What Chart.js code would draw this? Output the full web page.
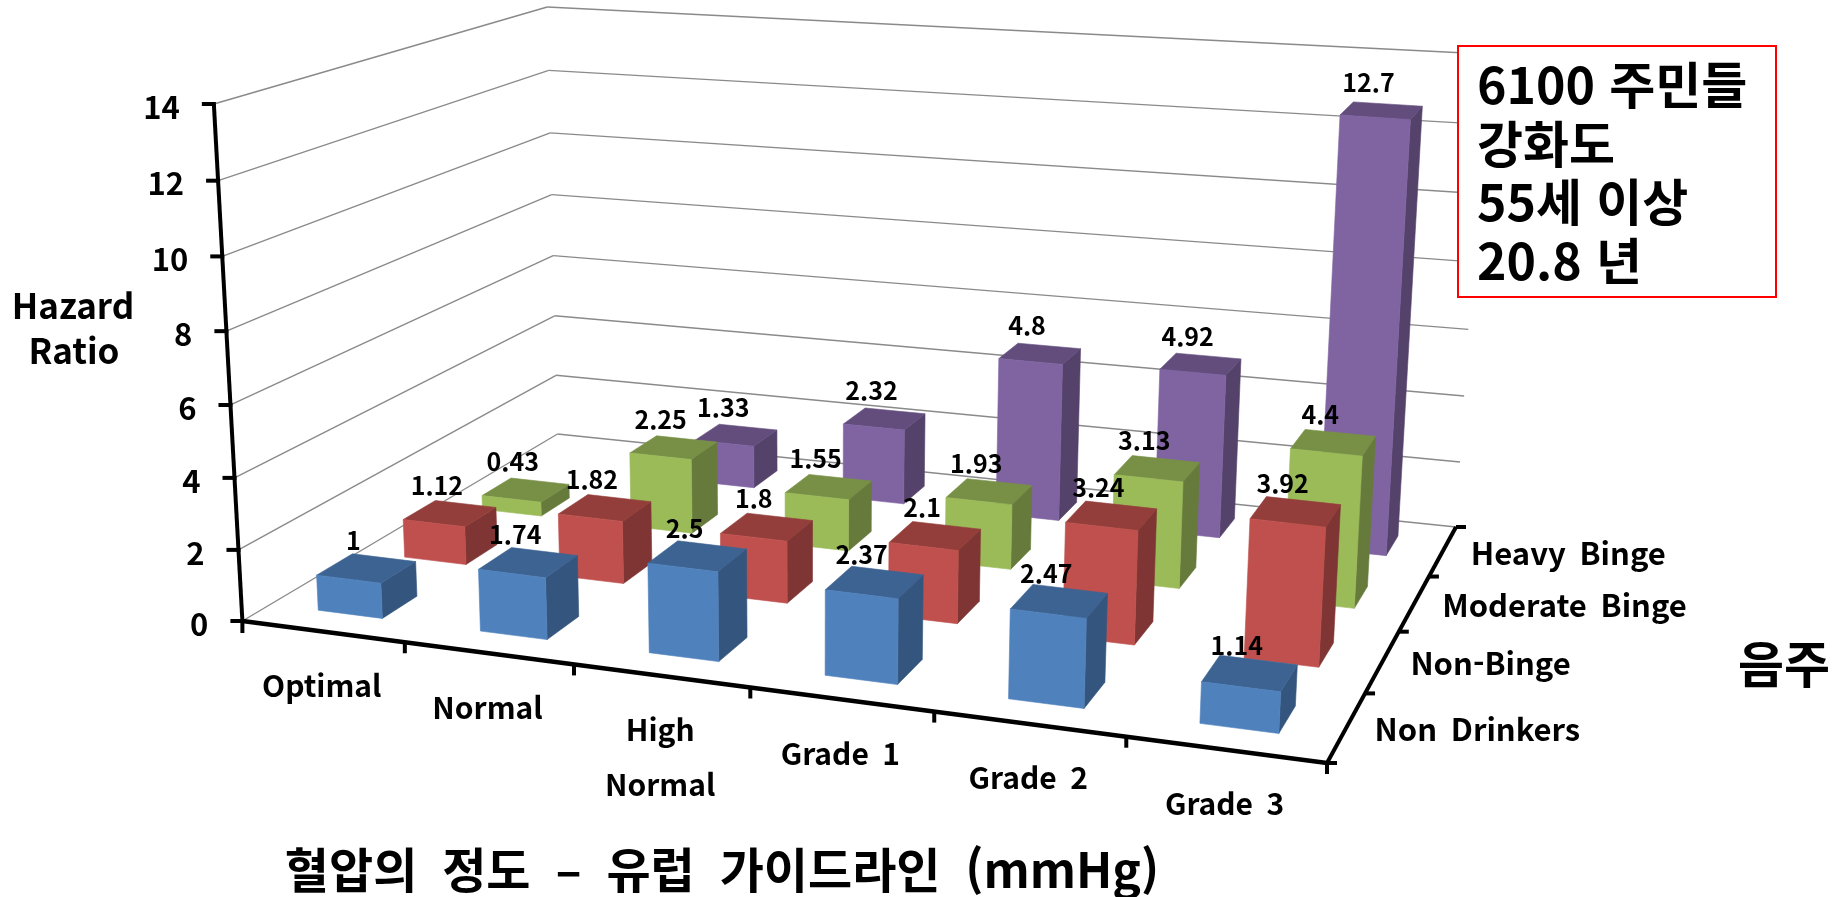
<!DOCTYPE html>
<html lang="ko">
<head>
<meta charset="utf-8">
<title>Hazard Ratio</title>
<script src="https://cdn.jsdelivr.net/npm/chart.js@4"></script>
<style>
  html, body { margin: 0; padding: 0; background: #fff; }
  canvas { display: block; }
</style>
</head>
<body>
<canvas id="chart" width="1845" height="897"></canvas>
<script>
const categories = ["Optimal", "Normal", ["High", "Normal"], "Grade 1", "Grade 2", "Grade 3"];
const drinkingGroups = ["Non Drinkers", "Non-Binge", "Moderate Binge", "Heavy Binge"];
const yTicks = [0, 2, 4, 6, 8, 10, 12, 14];

const nonDrinkers = [1, 1.74, 2.5, 2.37, 2.47, 1.14];
const nonBinge = [1.12, 1.82, 1.8, 2.1, 3.24, 3.92];
const moderateBinge = [0.43, 2.25, 1.55, 1.93, 3.13, 4.4];
const heavyBinge = [null, 1.33, 2.32, 4.8, 4.92, 12.7];

const axisTitleX = "혈압의 정도 – 유럽 가이드라인 (mmHg)";
const axisTitleZ = "음주";
const axisTitleY = ["Hazard", "Ratio"];
const noteLines = ["6100 주민들", "강화도", "55세 이상", "20.8 년"];

// Camera: floor corners from front-left round to back-left, the full height
// of the value axis at each corner, and the point verticals converge on
const floorQuad = [[242.4, 621], [1327, 763], [1456, 527], [557.5, 434]];
const cornerHeights = [517, 540, 473, 427];
const verticalVanish = [810, 10900];
const HEIGHT_BIAS = 1.045;
const BAR_FRACTION = 0.4;
const FONT = '"Noto Sans CJK KR", "Noto Sans", sans-serif';

function squareToQuad(q) {
  const [[x0, y0], [x1, y1], [x2, y2], [x3, y3]] = q;
  const sx = x0 - x1 + x2 - x3, sy = y0 - y1 + y2 - y3;
  const dx1 = x1 - x2, dx2 = x3 - x2, dy1 = y1 - y2, dy2 = y3 - y2;
  const det = dx1 * dy2 - dx2 * dy1;
  const g = (sx * dy2 - dx2 * sy) / det;
  const h = (dx1 * sy - sx * dy1) / det;
  const a = x1 - x0 + g * x1, b = x3 - x0 + h * x3;
  const d = y1 - y0 + g * y1, e = y3 - y0 + h * y3;
  return (s, t) => {
    const w = g * s + h * t + 1;
    return [(a * s + b * t + x0) / w, (d * s + e * t + y0) / w];
  };
}

const floorMap = squareToQuad(floorQuad);

// s, t are 0..1 across and into the floor, r is 0..1 up the value axis
function project(s, t, r) {
  const f = floorMap(s, t);
  const [h0, h1, h2, h3] = cornerHeights;
  const height = (h0 * (1 - s) + h1 * s) * (1 - t) + (h3 * (1 - s) + h2 * s) * t;
  const k = r / (r + HEIGHT_BIAS * (1 - r));
  const lean = (f[0] - verticalVanish[0]) / (verticalVanish[1] - f[1]);
  return [f[0] + lean * height * k, f[1] - height * k];
}

function darker(hex, factor) {
  const n = parseInt(hex.slice(1), 16);
  const part = (v) => Math.round(v * factor);
  return `rgb(${part(n >> 16)},${part((n >> 8) & 255)},${part(n & 255)})`;
}

function polygon(ctx, pts, fill) {
  ctx.beginPath();
  pts.forEach((p, i) => (i ? ctx.lineTo(p[0], p[1]) : ctx.moveTo(p[0], p[1])));
  ctx.closePath();
  ctx.fillStyle = fill;
  ctx.fill();
  ctx.strokeStyle = fill;
  ctx.lineWidth = 0.6;
  ctx.stroke();
}

function segment(ctx, a, b, color, width) {
  ctx.beginPath();
  ctx.moveTo(a[0], a[1]);
  ctx.lineTo(b[0], b[1]);
  ctx.strokeStyle = color;
  ctx.lineWidth = width;
  ctx.stroke();
}

function label(ctx, text, x, y, size, align, wordGap) {
  ctx.font = `bold ${size}px ${FONT}`;
  ctx.wordSpacing = (wordGap || 0) + "px";
  ctx.textAlign = align || "center";
  ctx.textBaseline = "middle";
  ctx.fillStyle = "#000";
  ctx.fillText(text, x, y);
}

const box3d = {
  id: "box3d",
  // the flat bars are replaced by projected prisms, scales still place them
  beforeDatasetsDraw(chart) {
    const ctx = chart.ctx;
    const xs = chart.scales.x, ys = chart.scales.y, zs = chart.scales.z;
    const across = (i) => (xs.getPixelForValue(i) - xs.left) / xs.width;
    const into = (j) => (zs.getPixelForValue(j) - zs.left) / zs.width;
    const up = (v) => (ys.bottom - ys.getPixelForValue(v)) / ys.height;
    const halfX = (BAR_FRACTION / categories.length) / 2;
    const halfZ = (BAR_FRACTION / drinkingGroups.length) / 2;

    ctx.save();
    ctx.lineCap = "butt";

    // gridlines on the two walls
    ys.ticks.forEach((tick) => {
      const r = up(tick.value);
      segment(ctx, project(0, 0, r), project(0, 1, r), "#8a8a8a", 1.4);
      segment(ctx, project(0, 1, r), project(1, 1, r), "#8a8a8a", 1.4);
    });

    // back rows first so nearer bars cover them
    for (let j = chart.data.datasets.length - 1; j >= 0; j--) {
      const ds = chart.data.datasets[j];
      ds.data.forEach((value, i) => {
        if (value === null) return;
        const s0 = across(i) - halfX, s1 = across(i) + halfX;
        const t0 = into(j) - halfZ, t1 = into(j) + halfZ;
        const r = up(value);
        polygon(ctx, [project(s1, t0, 0), project(s1, t1, 0), project(s1, t1, r), project(s1, t0, r)],
          darker(ds.backgroundColor, 0.66));
        polygon(ctx, [project(s0, t0, r), project(s1, t0, r), project(s1, t1, r), project(s0, t1, r)],
          darker(ds.backgroundColor, 0.77));
        polygon(ctx, [project(s0, t0, 0), project(s1, t0, 0), project(s1, t0, r), project(s0, t0, r)],
          ds.backgroundColor);
      });
    }

    // value labels sit on top of every bar
    chart.data.datasets.forEach((ds, j) => {
      ds.data.forEach((value, i) => {
        if (value === null) return;
        const p = project(across(i), into(j), up(value));
        label(ctx, String(value), p[0] - 13, p[1] - 28, 25);
      });
    });

    // value axis
    const base = project(0, 0, 0);
    segment(ctx, base, project(0, 0, 1), "#000", 4);
    ys.ticks.forEach((tick) => {
      const p = project(0, 0, up(tick.value));
      segment(ctx, [p[0] - 12, p[1]], [p[0] + 2, p[1]], "#000", 4);
      label(ctx, String(tick.value), p[0] - 34, p[1] + 3, 31, "right");
    });

    // front edge with category ticks
    segment(ctx, base, project(1, 0, 0), "#000", 4.5);
    segment(ctx, base, [base[0], base[1] + 12], "#000", 4);
    categories.forEach((name, i) => {
      const end = project((i + 1) / categories.length, 0, 0);
      segment(ctx, end, [end[0], end[1] + 11], "#000", 4);
      const c = project(across(i), 0, 0);
      [].concat(name).forEach((line, n) => {
        label(ctx, line, c[0] - 1, c[1] + 54 + n * 55, 30, "center", 5);
      });
    });

    // right edge with group ticks
    const corner = project(1, 0, 0);
    segment(ctx, corner, project(1, 1, 0), "#000", 4);
    drinkingGroups.forEach((name, j) => {
      const end = project(1, (j + 1) / drinkingGroups.length, 0);
      segment(ctx, end, [end[0] + 10, end[1]], "#000", 4);
      const c = project(1, into(j), 0);
      label(ctx, name, c[0] + 28, c[1] + 2, 31, "left", 5);
    });
    segment(ctx, corner, [corner[0] + 10, corner[1]], "#000", 4);

    // titles
    label(ctx, axisTitleY[0], 73, 306, 35);
    label(ctx, axisTitleY[1], 74, 351, 35);
    label(ctx, axisTitleX, 722, 870, 48, "center", 14);
    label(ctx, axisTitleZ, 1784, 664, 50);

    // note box
    ctx.fillStyle = "#fff";
    ctx.fillRect(1458, 46, 318, 251);
    ctx.strokeStyle = "#ff0000";
    ctx.lineWidth = 2;
    ctx.strokeRect(1458, 46, 318, 251);
    noteLines.forEach((line, n) => {
      label(ctx, line, 1477, 85 + n * 58.5, 50, "left", 3);
    });

    ctx.restore();
    return false;
  },
};

new Chart(document.getElementById("chart"), {
  type: "bar",
  data: {
    labels: categories,
    datasets: [
      { label: drinkingGroups[0], data: nonDrinkers, backgroundColor: "#4f81bd" },
      { label: drinkingGroups[1], data: nonBinge, backgroundColor: "#c0504d" },
      { label: drinkingGroups[2], data: moderateBinge, backgroundColor: "#9bbb59" },
      { label: drinkingGroups[3], data: heavyBinge, backgroundColor: "#8064a2" },
    ],
  },
  options: {
    responsive: false,
    animation: false,
    plugins: { legend: { display: false }, tooltip: { enabled: false } },
    scales: {
      x: { display: false },
      z: { type: "category", axis: "x", labels: drinkingGroups, display: false, offset: true },
      y: { display: false, min: 0, max: 14, afterBuildTicks: (scale) => {
        scale.ticks = yTicks.map((value) => ({ value }));
      } },
    },
  },
  plugins: [box3d],
});
</script>
</body>
</html>
